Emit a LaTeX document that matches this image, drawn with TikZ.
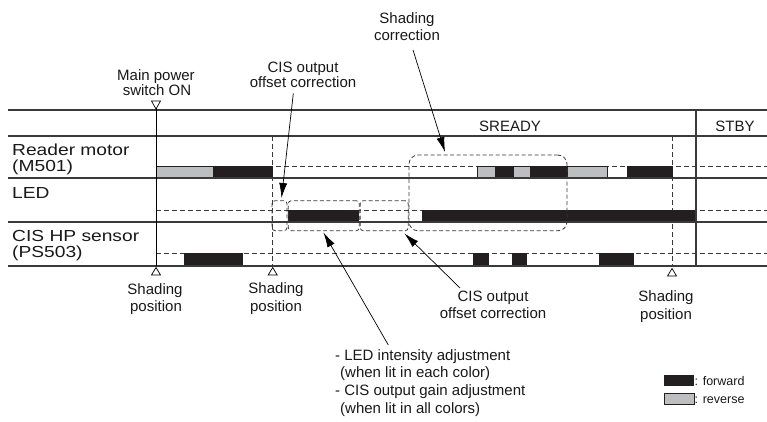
\documentclass[tikz,border=0pt]{standalone}
\usepackage{fontspec}
\setmainfont{Liberation Sans}
\newfontfamily\lblfont[FakeStretch=1.2]{Liberation Sans}
\usetikzlibrary{arrows.meta}
\definecolor{barblack}{HTML}{231F20}
\definecolor{bargray}{HTML}{BCBEC0}
\definecolor{linegray}{HTML}{3A3A3A}
\begin{document}
\begin{tikzpicture}[x=1pt,y=-1pt,
  txt/.style={font=\fontsize{15}{17}\selectfont, inner sep=0pt, anchor=base, text=black!90},
  bullet/.style={txt, anchor=base west},
  lbl/.style={font=\lblfont\fontsize{16}{17}\selectfont, inner sep=0pt, anchor=base west, text=black!90},
  legtxt/.style={font=\fontsize{12.5}{15}\selectfont, inner sep=0pt, anchor=base west, text=black!90},
  rowline/.style={draw=linegray, line width=1.1pt},
  dashline/.style={draw=linegray, line width=0.8pt, dash pattern=on 5pt off 3pt},
  dashbox/.style={draw=linegray, line width=0.8pt, dash pattern=on 4pt off 2.5pt, rounded corners=3pt},
  bigbox/.style={dashbox, rounded corners=9pt},
  fwd/.style={fill=barblack},
  rev/.style={fill=bargray, draw=barblack, line width=0.6pt},
  callout/.style={draw=black, line width=0.7pt, -{Latex[length=15pt,width=8pt]}},
  tri/.style={draw=black, line width=0.7pt, fill=white},
]
\useasboundingbox (0,0) rectangle (767,422);
\fill[white] (0,0) rectangle (767,422);

% dashed base lines
\draw[dashline] (156,166) -- (767,166);
\draw[dashline] (156,210) -- (767,210);
\draw[dashline] (156,253) -- (767,253);

% dashed verticals
\draw[dashline] (272.7,136) -- (272.7,266);
\draw[dashline] (672,136) -- (672,266);

% Reader motor bars
\path[rev] (156,166) rectangle (213,178);
\path[fwd] (213,166) rectangle (272.7,178);
\path[rev] (477.3,166) rectangle (495.7,178);
\path[fwd] (495.7,166) rectangle (513.3,178);
\path[rev] (513.3,166) rectangle (530.7,178);
\path[fwd] (530.7,166) rectangle (567.7,178);
\path[rev] (567.7,166) rectangle (607.7,178);
\path[fwd] (626.7,166) rectangle (672.5,178);

% LED bars
\path[fwd] (287.5,210) rectangle (359,222);
\path[fwd] (421.7,210) rectangle (696.5,222);

% CIS HP sensor bars
\path[fwd] (184,253) rectangle (243,266);
\path[fwd] (473.3,253) rectangle (489.3,266);
\path[fwd] (511.7,253) rectangle (527.3,266);
\path[fwd] (599,253) rectangle (634,266);

% row lines
\draw[rowline] (8,110) -- (767,110);
\draw[rowline] (8,136) -- (767,136);
\draw[rowline] (8,178) -- (767,178);
\draw[rowline] (8,222) -- (767,222);
\draw[rowline] (8,266) -- (767,266);
\draw[rowline] (696,110) -- (696,266);

% main power switch line
\draw[draw=black, line width=0.9pt] (156,108) -- (156,266);
\draw[tri] (151.5,101) -- (160.5,101) -- (156,109) -- cycle;

% shading position triangles
\draw[tri] (156,267.5) -- (160.5,275) -- (151.5,275) -- cycle;
\draw[tri] (272.7,267.5) -- (277.2,275) -- (268.2,275) -- cycle;
\draw[tri] (672,268.5) -- (676.5,276) -- (667.5,276) -- cycle;

% dashed correction boxes
\node[dashbox, minimum width=15pt, minimum height=30pt, inner sep=0pt] (boxA) at (279.5,215.7) {};
\node[dashbox, minimum width=71pt, minimum height=30pt, inner sep=0pt] (boxB) at (323.8,215.7) {};
\node[dashbox, minimum width=48pt, minimum height=30pt, inner sep=0pt] (boxC) at (384.2,215.7) {};
\node[bigbox, minimum width=158pt, minimum height=75.7pt, inner sep=0pt] (boxD) at (488,192.9) {};

% header texts
\node[txt] (sready) at (510,132) {SREADY};
\node[txt] (stby) at (735,132) {STBY};

% left labels
\node[lbl] (rm1) at (12,155.5) {Reader motor};
\node[lbl] (rm2) at (12,171.5) {(M501)};
\node[lbl] (led) at (12,198) {LED};
\node[lbl] (cis1) at (12,241.5) {CIS HP sensor};
\node[lbl] (cis2) at (12,257) {(PS503)};

% top labels
\node[txt] (mp1) at (156,81) {Main power};
\node[txt] (mp2) at (157,96) {switch ON};
\node[txt] (co1) at (303,72.5) {CIS output};
\node[txt] (co2) at (303,88) {offset correction};
\node[txt] (sc1) at (407,24) {Shading};
\node[txt] (sc2) at (407,41) {correction};

% bottom labels
\node[txt] (sp1a) at (155,294) {Shading};
\node[txt] (sp1b) at (156,311) {position};
\node[txt] (sp2a) at (276,293.5) {Shading};
\node[txt] (sp2b) at (276,311) {position};
\node[txt] (sp3a) at (666,301.5) {Shading};
\node[txt] (sp3b) at (666,319) {position};
\node[txt] (co3) at (493,301) {CIS output};
\node[txt] (co4) at (493,318.5) {offset correction};

\node[bullet] (b1) at (335,360) {- LED intensity adjustment};
\node[bullet] (b2) at (340,377.5) {(when lit in each color)};
\node[bullet] (b3) at (335,395.5) {- CIS output gain adjustment};
\node[bullet] (b4) at (340,413) {(when lit in all colors)};

% callout arrows
\coordinate (t1) at (293.3,93.5);
\coordinate (h1) at (281.5,198);
\coordinate (t2) at (413,50);
\coordinate (h2) at (445,152);
\coordinate (t3) at (460,288);
\coordinate (h3) at (404.5,233.5);
\coordinate (t4) at (388.3,345);
\coordinate (h4) at (323.5,232.5);
\draw[callout] (t1) -- (h1);
\draw[callout] (t2) -- (h2);
\draw[callout] (t3) -- (h3);
\draw[callout] (t4) -- (h4);

% legend
\node[fwd, minimum width=30pt, minimum height=11pt, inner sep=0pt] (legf) at (679,380.5) {};
\node[rev, minimum width=30pt, minimum height=11pt, inner sep=0pt] (legr) at (679,398.5) {};
\node[legtxt] (legft) at (694.5,385.5) {: forward};
\node[legtxt] (legrt) at (694.5,403.5) {: reverse};
\end{tikzpicture}
\end{document}
